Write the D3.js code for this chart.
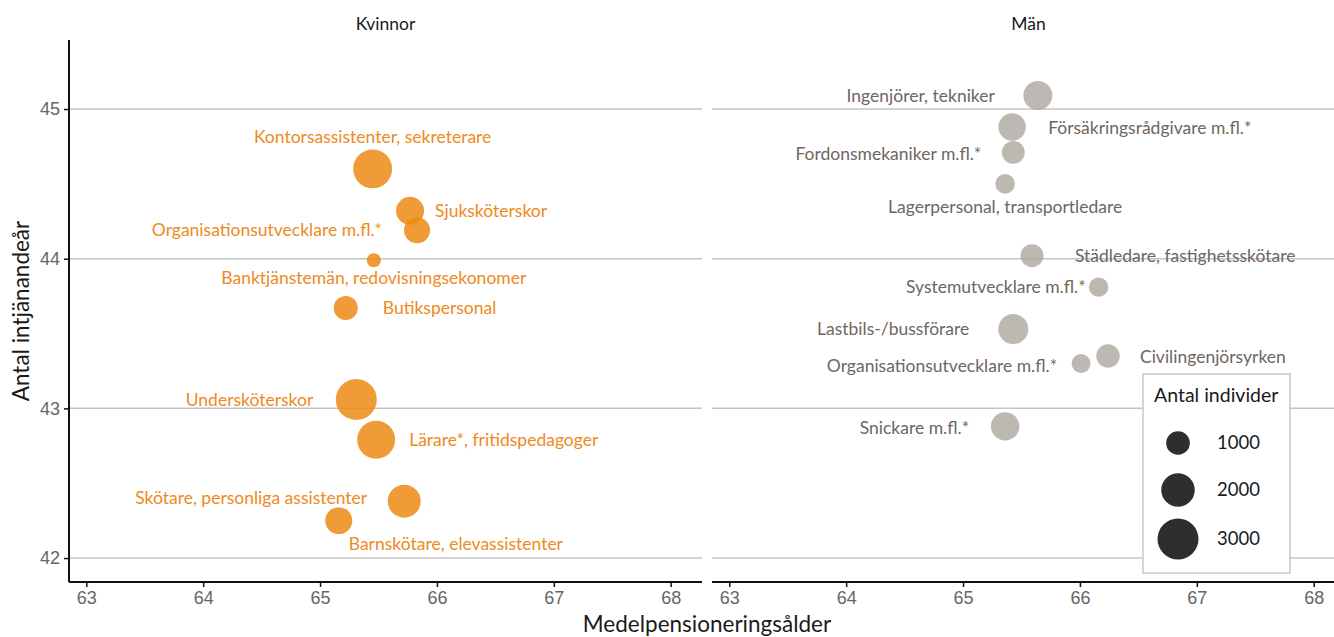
<!DOCTYPE html>
<html>
<head>
<meta charset="utf-8">
<script src="https://cdn.jsdelivr.net/npm/d3@7"></script>
<style>
  body, html { margin: 0; padding: 0; background: #fff; overflow: hidden; }
  svg { display: block; font-family: Lato, "Open Sans", sans-serif; }
  .lbl { font-size: 17.5px; }
  .tick text { font-size: 18px; fill: #666; }
</style>
</head>
<body>
<svg id="chart" width="1334" height="637"></svg>
<script>
// --- data ---
var panels = ["Kvinnor", "Män"];

var womenNames = ["Kontorsassistenter, sekreterare", "Sjuksköterskor", "Organisationsutvecklare m.fl.*",
  "Banktjänstemän, redovisningsekonomer", "Butikspersonal", "Undersköterskor",
  "Lärare*, fritidspedagoger", "Skötare, personliga assistenter", "Barnskötare, elevassistenter"];
var womenAge   = [65.45, 65.77, 65.83, 65.46, 65.22, 65.31, 65.48, 65.72, 65.16];
var womenYears = [44.60, 44.32, 44.19, 43.99, 43.67, 43.06, 42.79, 42.38, 42.25];
var womenCount = [2710, 1400, 1210, 350, 1030, 3000, 2580, 1940, 1300];

var menNames = ["Ingenjörer, tekniker", "Försäkringsrådgivare m.fl.*", "Fordonsmekaniker m.fl.*",
  "Lagerpersonal, transportledare", "Städledare, fastighetsskötare", "Systemutvecklare m.fl.*",
  "Lastbils-/bussförare", "Organisationsutvecklare m.fl.*", "Civilingenjörsyrken", "Snickare m.fl.*"];
var menAge   = [65.64, 65.42, 65.43, 65.36, 65.59, 66.16, 65.43, 66.01, 66.24, 65.36];
var menYears = [45.09, 44.88, 44.71, 44.50, 44.02, 43.81, 43.53, 43.30, 43.35, 42.88];
var menCount = [1500, 1340, 930, 690, 940, 670, 1610, 640, 980, 1440];

var xTicks = [63, 64, 65, 66, 67, 68];
var yTicks = [42, 43, 44, 45];
var legendValues = [1000, 2000, 3000];

// label placement (anchor, dx, dy from bubble centre)
var labelLayout = {
  "Kvinnor": [["middle", 0, -32], ["start", 25, 0], ["end", -35, 0], ["middle", 0, 18], ["start", 37, 0],
              ["end", -43, 0], ["start", 33, 0], ["end", -37, -3], ["start", 10, 23]],
  "Män": [["end", -43, 0], ["start", 36, 1], ["end", -32, 1], ["middle", 0, 23], ["start", 43, 0],
          ["end", -13, 0], ["end", -44, 0], ["end", -24, 2], ["start", 32, 1], ["end", -36, 2]]
};

var series = {
  "Kvinnor": womenNames.map(function(n, i) { return {name: n, age: womenAge[i], years: womenYears[i], count: womenCount[i]}; }),
  "Män": menNames.map(function(n, i) { return {name: n, age: menAge[i], years: menYears[i], count: menCount[i]}; })
};

var fill = {"Kvinnor": "#ec8a15", "Män": "#b3aca4"};
var textCol = {"Kvinnor": "#ee8a1c", "Män": "#6e6660"};

// --- layout ---
var svg = d3.select("#chart");
var plotTop = 40, plotBottom = 582, panelW = 633;
var panelX = [69, 712];

var x = d3.scaleLinear().domain([62.852, 68.268]).range([0, panelW]);
var y = d3.scaleLinear().domain([41.84, 45.461]).range([plotBottom, plotTop]);
var r = d3.scaleSqrt().domain([0, 3000]).range([0, 20.5]);

panels.forEach(function(p, pi) {
  var g = svg.append("g").attr("transform", "translate(" + panelX[pi] + ",0)");

  // gridlines
  g.selectAll("line.grid").data(yTicks).enter().append("line")
    .attr("x1", 0).attr("x2", panelW)
    .attr("y1", function(d) { return y(d); }).attr("y2", function(d) { return y(d); })
    .attr("stroke", "#c4c4c4").attr("stroke-width", 1.5);

  // facet title
  g.append("text").attr("x", panelW / 2).attr("y", 30).attr("text-anchor", "middle")
    .style("font-size", "17.5px").attr("fill", "#1a1a1a").text(p);

  // x axis
  var xa = g.append("g").attr("transform", "translate(0," + plotBottom + ")")
    .call(d3.axisBottom(x).tickValues(xTicks).tickSize(5).tickPadding(4).tickFormat(d3.format("d")));
  xa.select(".domain").attr("stroke", "#111").attr("stroke-width", 2).attr("d", "M0,0H" + panelW);
  xa.selectAll(".tick line").attr("stroke", "#111").attr("stroke-width", 1.5);

  if (pi === 0) {
    var ya = g.append("g")
      .call(d3.axisLeft(y).tickValues(yTicks).tickSize(5).tickPadding(4).tickFormat(d3.format("d")));
    ya.select(".domain").attr("stroke", "#111").attr("stroke-width", 2).attr("d", "M0," + plotTop + "V" + plotBottom);
    ya.selectAll(".tick line").attr("stroke", "#111").attr("stroke-width", 1.5);
  }

  var pts = series[p];
  g.selectAll("circle.pt").data(pts).enter().append("circle")
    .attr("cx", function(d) { return x(d.age); })
    .attr("cy", function(d) { return y(d.years); })
    .attr("r", function(d) { return r(d.count); })
    .attr("fill", fill[p]).attr("fill-opacity", 0.85);

  g.selectAll("text.lbl").data(pts).enter().append("text")
    .attr("class", "lbl")
    .attr("x", function(d, i) { return x(d.age) + labelLayout[p][i][1]; })
    .attr("y", function(d, i) { return y(d.years) + labelLayout[p][i][2]; })
    .attr("dy", "0.35em")
    .attr("text-anchor", function(d, i) { return labelLayout[p][i][0]; })
    .attr("fill", textCol[p])
    .text(function(d) { return d.name; });
});

// axis titles
svg.append("text").attr("x", 707).attr("y", 632).attr("text-anchor", "middle")
  .style("font-size", "22.5px").attr("fill", "#1a1a1a").text("Medelpensioneringsålder");
svg.append("text").attr("transform", "translate(29,311) rotate(-90)").attr("text-anchor", "middle")
  .style("font-size", "22.5px").attr("fill", "#1a1a1a").text("Antal intjänandeår");

// size legend
var lg = svg.append("g").attr("transform", "translate(1143,374)");
lg.append("rect").attr("width", 147).attr("height", 199)
  .attr("fill", "#fff").attr("stroke", "#c8c8c8").attr("stroke-width", 1.5);
lg.append("text").attr("x", 11).attr("y", 28).style("font-size", "19.5px").attr("fill", "#1a1a1a").text("Antal individer");
var ly = [69, 116, 165];
legendValues.forEach(function(v, i) {
  lg.append("circle").attr("cx", 35).attr("cy", ly[i]).attr("r", r(v)).attr("fill", "#2e2e2e");
  lg.append("text").attr("x", 74).attr("y", ly[i]).attr("dy", "0.35em")
    .style("font-size", "18.5px").attr("fill", "#1a1a1a").text(d3.format("d")(v));
});
</script>
</body>
</html>
